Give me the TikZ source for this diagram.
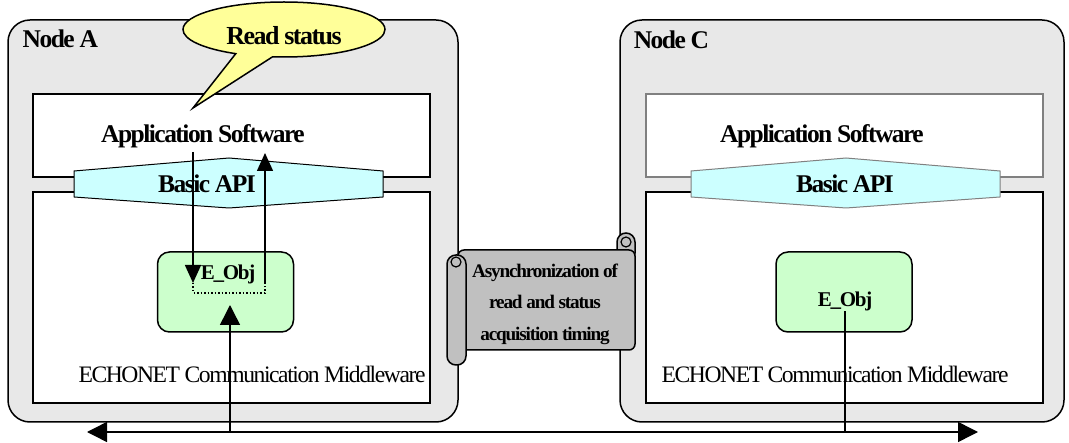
\documentclass[tikz,border=0pt]{standalone}
\usepackage{fontspec}
\setmainfont{Liberation Serif}[LetterSpace=-6]
\usetikzlibrary{arrows.meta, positioning, shapes.callouts}

\definecolor{nodegray}{RGB}{232,232,232}
\definecolor{apicyan}{RGB}{204,255,255}
\definecolor{objgreen}{RGB}{204,255,204}
\definecolor{notegray}{RGB}{192,192,192}
\definecolor{bubbleyellow}{RGB}{255,255,153}
\definecolor{edgegray}{RGB}{128,128,128}

\begin{document}
\begin{tikzpicture}[x=1pt, y=-1pt, line width=1.5pt, >={Triangle[length=20pt, width=20pt]},
    node box/.style={draw, fill=nodegray, rounded corners=22pt, inner sep=0pt, minimum height=402pt},
    layer box/.style={draw, fill=white, inner sep=0pt, minimum width=397pt},
    obj box/.style={draw, fill=objgreen, rounded corners=12pt, inner sep=0pt, minimum width=136pt, minimum height=80pt},
    api shape/.style={draw, fill=apicyan, line width=1pt},
    big text/.style={font=\fontsize{25.5}{30}\selectfont\bfseries, inner sep=0pt},
    obj text/.style={font=\fontsize{21}{26}\selectfont\bfseries, inner sep=0pt},
    mw text/.style={font=\fontsize{23.6}{28}\selectfont, inner sep=0pt}]

    \useasboundingbox (0,0) rectangle (1069,443);

    % Nodes
    \node[node box, minimum width=450pt] (nodeA) at (233,221) {};
    \node[node box, minimum width=444pt] (nodeC) at (842,221) {};
    \node[big text, anchor=west] (nodeAname) at (22,39) {Node A};
    \node[big text, anchor=west] (nodeCname) at (633,40) {Node C};

    % Layers of node A
    \node[layer box, minimum height=83pt] (appA) at (231.5,135.5) {};
    \node[layer box, minimum height=211pt] (mwA) at (231.5,297.5) {};
    \draw[api shape] (74,171) -- (229,158) -- (383,171) -- (383,197) -- (229,208) -- (74,197) -- cycle;
    \node[obj box] (objA) at (225.5,292) {};

    % Layers of node C
    \node[layer box, draw=edgegray, minimum height=83pt] (appC) at (844.5,135.5) {};
    \node[layer box, minimum height=211pt] (mwC) at (844.5,297.5) {};
    \draw[api shape, draw=edgegray] (691,171) -- (846,158) -- (1000,171) -- (1000,197) -- (846,208) -- (691,197) -- cycle;
    \node[obj box] (objC) at (844,292) {};

    % Texts
    \node[big text] (appAtext) at (203,136) {Application Software};
    \node[big text] (apiAtext) at (207,184) {Basic API};
    \node[obj text] (objAtext) at (228,274) {E\_Obj};
    \node[mw text] (mwAtext) at (252,374) {ECHONET Communication Middleware};
    \node[big text] (appCtext) at (822,136) {Application Software};
    \node[big text] (apiCtext) at (845,184) {Basic API};
    \node[obj text] (objCtext) at (845,301) {E\_Obj};
    \node[mw text] (mwCtext) at (835,374) {ECHONET Communication Middleware};

    % Read request inside node A
    \coordinate (readTop) at (193,152);
    \coordinate (readEnd) at (193,283);
    \coordinate (backEnd) at (265,283);
    \coordinate (backTop) at (265,153);
    \draw[->, >={Triangle[length=18pt, width=16pt]}] (readTop) -- (readEnd);
    \draw[->, >={Triangle[length=18pt, width=16pt]}] (backEnd) -- (backTop);
    \draw[dotted] (readEnd) -- ++(0,10) -| (backEnd);

    % Network
    \coordinate (netLeft) at (87,432);
    \coordinate (netRight) at (978,432);
    \coordinate (netA) at (230,432);
    \coordinate (netC) at (845,432);
    \coordinate (objAin) at (230,305);
    \draw[<->] (netLeft) -- (netRight);
    \draw[->] (netA) -- (objAin);
    \draw (objCtext.south) -- (netC);

    % Scroll note
    \draw[fill=notegray, rounded corners=9pt] (617,262) rectangle (635,233);
    \draw[fill=notegray, rounded corners=6pt] (458,250) -- (635,250) -- (635,350) -- (458,350) -- cycle;
    \draw[fill=notegray, rounded corners=9pt] (447,255) rectangle (466,365);
    \draw[line width=1.2pt] (456,262) circle[radius=5];
    \draw[line width=1.2pt] (626,242) circle[radius=5];
    \node[font=\fontsize{19.2}{31.5}\selectfont\bfseries, align=center, inner sep=0pt] (note) at (545,304)
        {Asynchronization of\\read and status\\acquisition timing};

    % Callout
    \node[ellipse callout, draw, fill=bubbleyellow, minimum width=202pt, minimum height=55pt,
        inner sep=0pt, text height=31pt, text depth=0pt, callout pointer arc=22,
        callout absolute pointer={(193,108)}, font=\fontsize{26}{30}\selectfont\bfseries] (bubble) at (284,29.5) {Read status};

\end{tikzpicture}
\end{document}
